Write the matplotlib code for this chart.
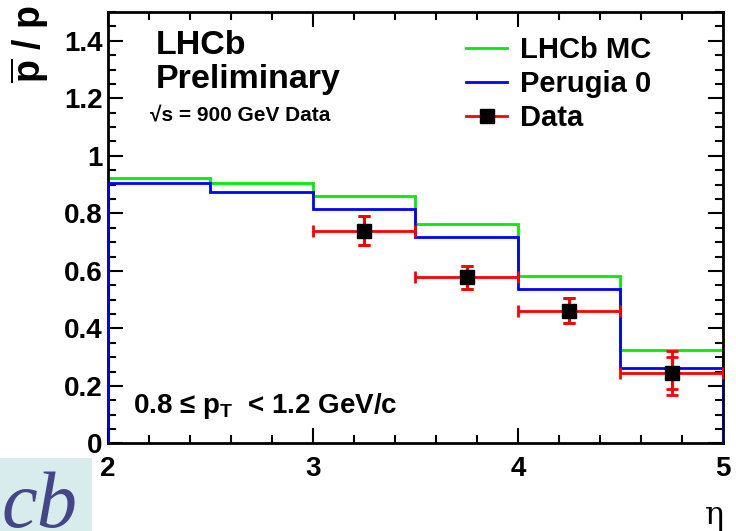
import numpy as np
import matplotlib.pyplot as plt
from matplotlib.patches import Rectangle
from matplotlib.lines import Line2D
from matplotlib.ticker import MultipleLocator, FuncFormatter

plt.rcParams['font.family'] = ['Liberation Sans', 'DejaVu Sans']
plt.rcParams['font.weight'] = 'bold'
plt.rcParams['mathtext.fontset'] = 'custom'
plt.rcParams['mathtext.rm'] = 'Liberation Sans:bold'
plt.rcParams['mathtext.bf'] = 'Liberation Sans:bold'
plt.rcParams['mathtext.it'] = 'Liberation Sans:bold'

# eta bins and pbar/p ratios
eta_edges = [2.0, 2.5, 3.0, 3.5, 4.0, 4.5, 5.0]
lhcb_mc = [0.923, 0.905, 0.861, 0.762, 0.583, 0.325]
perugia0 = [0.907, 0.874, 0.815, 0.718, 0.537, 0.262]

data_eta = [3.25, 3.75, 4.25, 4.75]
data_ratio = [0.740, 0.578, 0.462, 0.246]
data_stat = [0.051, 0.040, 0.043, 0.055]
data_tot = [0.051, 0.040, 0.043, 0.077]
data_xerr = [0.25, 0.25, 0.25, 0.25]

fig = plt.figure(figsize=(7.36, 5.31), dpi=100)
ax = fig.add_axes([0.1467, 0.1648, 0.8356, 0.8126])

ax.stairs(lhcb_mc, eta_edges, baseline=0, color='#00ee00', lw=2.0, zorder=2)
ax.stairs(perugia0, eta_edges, baseline=0, color='#0000ff', lw=2.0, zorder=3)

# total errors, then stat errors with inner caps
ax.errorbar(data_eta, data_ratio, yerr=data_tot, xerr=data_xerr, fmt='none',
            ecolor='#ff0000', elinewidth=2.0, capsize=4, capthick=2.0, zorder=4)
ax.errorbar(data_eta, data_ratio, yerr=data_stat, fmt='none',
            ecolor='#ff0000', elinewidth=2.0, capsize=4, capthick=2.0, zorder=4)
ax.plot(data_eta, data_ratio, 's', color='black', ms=10.5, zorder=5)

ax.set_xlim(2, 5)
ax.set_ylim(0, 1.5)
ax.xaxis.set_major_locator(MultipleLocator(1))
ax.xaxis.set_minor_locator(MultipleLocator(0.2))
ax.yaxis.set_major_locator(MultipleLocator(0.2))
ax.yaxis.set_minor_locator(MultipleLocator(0.05))
ax.yaxis.set_major_formatter(FuncFormatter(lambda v, p: '%g' % round(v, 2)))
ax.tick_params(which='both', direction='in', top=True, right=True, width=1.5)
ax.tick_params(which='major', length=11)
ax.tick_params(which='minor', length=5.5)
ax.tick_params(axis='y', labelsize=20, pad=4)
ax.tick_params(axis='x', labelsize=20, pad=9)
for s in ax.spines.values():
    s.set_linewidth(2.0)

ax.text(0.077, 0.958, 'LHCb', transform=ax.transAxes, fontsize=24.5, va='top')
ax.text(0.077, 0.88, 'Preliminary', transform=ax.transAxes, fontsize=24.5, va='top')
ax.text(0.068, 0.78, '\u221as = 900 GeV Data', transform=ax.transAxes,
        fontsize=15, va='top')
ax.text(0.04, 0.07, '0.8 \u2264 p$_{\\mathrm{T}}$  < 1.2 GeV/c',
        transform=ax.transAxes, fontsize=20, va='baseline')

handles = [
    Line2D([], [], color='#00ee00', lw=2.0),
    Line2D([], [], color='#0000ff', lw=2.0),
    Line2D([], [], color='#ff0000', lw=2.0, marker='s', ms=10, mfc='black',
           mec='black'),
]
ax.legend(handles, ['LHCb MC', 'Perugia 0', 'Data'], loc='upper left',
          bbox_to_anchor=(0.54, 1.005), frameon=False, fontsize=21,
          handlelength=1.4, handletextpad=0.45, labelspacing=0.2)

fig.text(0.012, 0.99, r'$\overline{\mathrm{p}}$ / p', rotation=90,
         fontsize=27, ha='left', va='top')
fig.text(0.984, 0.0, '\u03b7', fontsize=23, ha='right', va='bottom',
         family=['DejaVu Serif'], weight='normal')

# corner of the collaboration logo
fig.patches.append(Rectangle((0, 0), 92 / 736, 73 / 531, transform=fig.transFigure,
                             facecolor='#d8ecec', edgecolor='none'))
fig.text(78 / 736, 4 / 531, 'cb', fontsize=58, ha='right', va='baseline',
         family=['Liberation Serif'], style='italic', weight='normal',
         color='#45458a')

fig.savefig('out.png', dpi=100)
